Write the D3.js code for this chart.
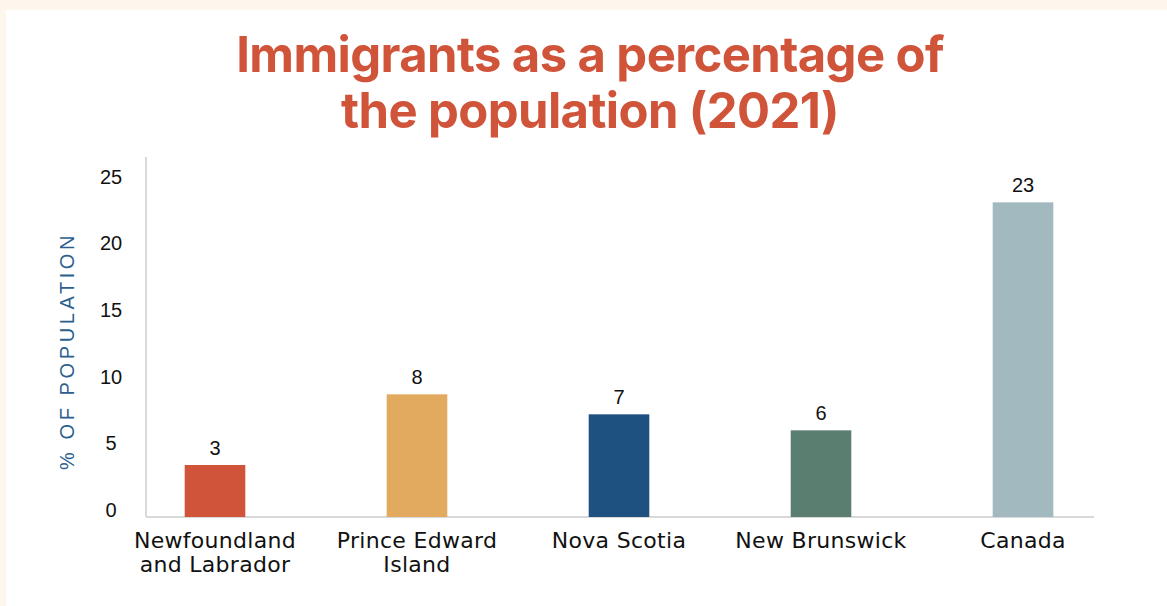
<!DOCTYPE html>
<html>
<head>
<meta charset="utf-8">
<script src="https://cdn.jsdelivr.net/npm/d3@7"></script>
<style>
  html, body { margin: 0; padding: 0; background: #fdf6ec; }
  svg { display: block; }
</style>
</head>
<body>
<svg id="chart" width="1167" height="606"></svg>
<script>
// data
const categories = ["Newfoundland\nand Labrador", "Prince Edward\nIsland", "Nova Scotia", "New Brunswick", "Canada"];
const values = [3.9, 9.2, 7.7, 6.5, 23.6];
const valueLabels = ["3", "8", "7", "6", "23"];
const barColors = ["#d0543a", "#e2aa5f", "#1f5180", "#5a7e70", "#a2b9c0"];
const yTicks = [0, 5, 10, 15, 20, 25];
const titleLines = ["Immigrants as a percentage of", "the population (2021)"];

const svg = d3.select("#chart");

// white panel
svg.append("rect")
    .attr("x", 6).attr("y", 10)
    .attr("width", 1161).attr("height", 596)
    .attr("fill", "#ffffff");

// title
const title = svg.append("text")
    .attr("text-anchor", "middle")
    .attr("fill", "#d0543a")
    .style("font-family", "Inter, 'Liberation Sans', sans-serif")
    .style("font-weight", 700)
    .style("font-size", "49px")
    .style("letter-spacing", "-0.6px");
title.selectAll("tspan")
    .data(titleLines)
    .enter().append("tspan")
    .attr("x", 590)
    .attr("y", (d, i) => 72 + i * 56)
    .text(d => d);

const xScale = d3.scaleBand()
    .domain(categories)
    .range([114, 1124])
    .paddingInner(0.7)
    .paddingOuter(0.35);

const yScale = d3.scaleLinear()
    .domain([0, 27])
    .range([517, 157]);

const g = svg.append("g");

// axis lines
g.append("line")
    .attr("x1", 146).attr("x2", 146)
    .attr("y1", yScale(27)).attr("y2", yScale(0))
    .attr("stroke", "#d9d9d9").attr("stroke-width", 2);
g.append("line")
    .attr("x1", 146).attr("x2", 1094)
    .attr("y1", yScale(0)).attr("y2", yScale(0))
    .attr("stroke", "#d9d9d9").attr("stroke-width", 2);

// y tick labels (sit a bit above their values, as in the original)
g.selectAll(".y-tick")
    .data(yTicks)
    .enter().append("text")
    .attr("class", "y-tick")
    .attr("x", 111)
    .attr("y", d => yScale(d) - 7)
    .attr("dy", "0.35em")
    .attr("text-anchor", "middle")
    .attr("fill", "#111")
    .style("font-family", "'Liberation Sans', Arial, sans-serif")
    .style("font-size", "20px")
    .text(d => d);

// y axis title
svg.append("text")
    .attr("transform", "translate(74, 351) rotate(-90)")
    .attr("text-anchor", "middle")
    .attr("fill", "#2c5f8f")
    .style("font-family", "'Liberation Sans', Arial, sans-serif")
    .style("font-size", "20px")
    .style("letter-spacing", "3.6px")
    .text("% OF POPULATION");

// bars
const bw = xScale.bandwidth();
g.selectAll(".bar")
    .data(categories)
    .enter().append("rect")
    .attr("class", "bar")
    .attr("x", d => xScale(d))
    .attr("y", (d, i) => yScale(values[i]))
    .attr("width", bw)
    .attr("height", (d, i) => yScale(0) - yScale(values[i]))
    .attr("fill", (d, i) => barColors[i]);

// value labels
g.selectAll(".value-label")
    .data(categories)
    .enter().append("text")
    .attr("class", "value-label")
    .attr("x", d => xScale(d) + bw / 2)
    .attr("y", (d, i) => yScale(values[i]) - 10)
    .attr("text-anchor", "middle")
    .attr("fill", "#111")
    .style("font-family", "'Liberation Sans', Arial, sans-serif")
    .style("font-size", "20px")
    .text((d, i) => valueLabels[i]);

// category labels
const cat = g.selectAll(".cat-label")
    .data(categories)
    .enter().append("text")
    .attr("class", "cat-label")
    .attr("text-anchor", "middle")
    .attr("fill", "#111")
    .style("font-family", "'DejaVu Sans', sans-serif")
    .style("font-size", "22px")
    .style("letter-spacing", "0.3px");
cat.each(function(d) {
    const t = d3.select(this);
    const cx = xScale(d) + bw / 2;
    d.split("\n").forEach((line, i) => {
        t.append("tspan")
            .attr("x", cx)
            .attr("y", 548 + i * 24)
            .text(line);
    });
});
</script>
</body>
</html>
